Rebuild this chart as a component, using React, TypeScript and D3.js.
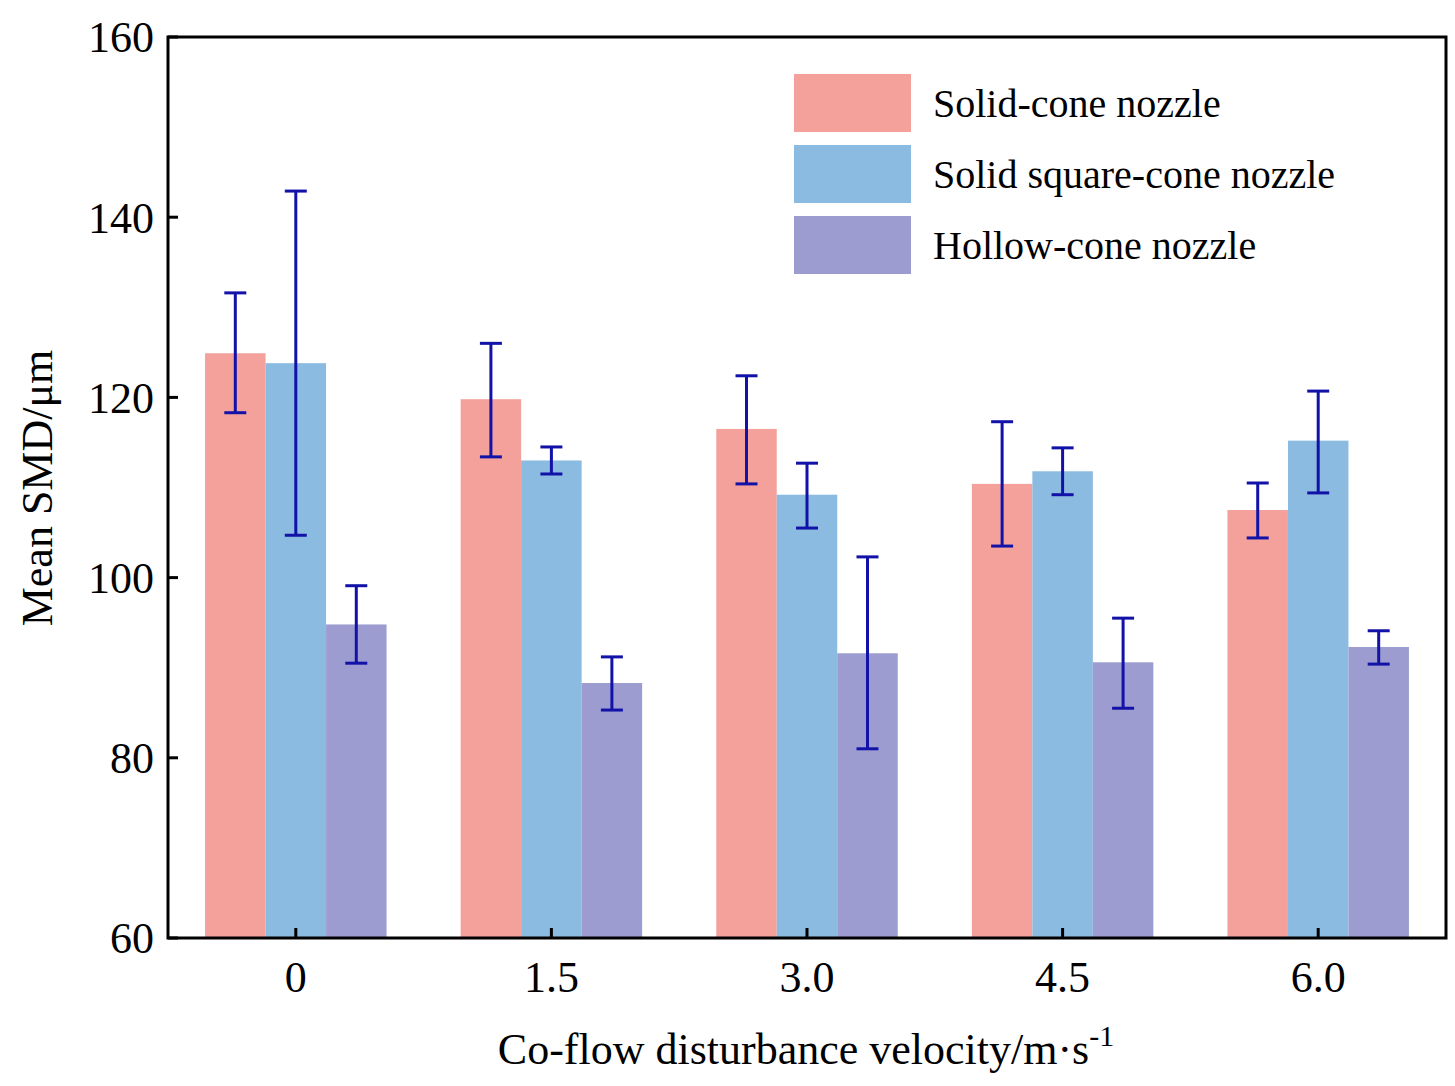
import React from "react";
import * as d3 from "d3";

const categories = ["0", "1.5", "3.0", "4.5", "6.0"];
const seriesNames = ["Solid-cone nozzle", "Solid square-cone nozzle", "Hollow-cone nozzle"];
const colors = ["#F4A19B", "#8BBBE0", "#9C9CD0"];
const solidCone = [124.9, 119.8, 116.5, 110.4, 107.5];
const solidConeLo = [118.3, 113.4, 110.4, 103.5, 104.4];
const solidConeHi = [131.6, 126.0, 122.4, 117.3, 110.5];
const squareCone = [123.8, 113.0, 109.2, 111.8, 115.2];
const squareConeLo = [104.7, 111.5, 105.5, 109.2, 109.4];
const squareConeHi = [142.9, 114.5, 112.7, 114.4, 120.7];
const hollowCone = [94.8, 88.3, 91.6, 90.6, 92.3];
const hollowConeLo = [90.5, 85.3, 81.0, 85.5, 90.4];
const hollowConeHi = [99.1, 91.2, 102.3, 95.5, 94.1];
const yTicks = [60, 80, 100, 120, 140, 160];

const series = [
  { v: solidCone, lo: solidConeLo, hi: solidConeHi },
  { v: squareCone, lo: squareConeLo, hi: squareConeHi },
  { v: hollowCone, lo: hollowConeLo, hi: hollowConeHi },
];

export default function App() {
  const L = 168, R = 1446, T = 37, B = 938;
  const x = d3.scaleBand().domain(categories).range([L, R]).paddingInner(0.29).paddingOuter(0.145);
  const xs = d3.scaleBand().domain(["0", "1", "2"]).range([0, x.bandwidth()]);
  const y = d3.scaleLinear().domain([60, 160]).range([B, T]);
  const font = "'Liberation Serif', 'DejaVu Serif', serif";
  return (
    <svg width={1455} height={1086} style={{ position: "absolute", left: 0, top: 0, background: "#fff" }} fontFamily={font}>
      {series.map((s, si) =>
        categories.map((c, ci) => {
          const bx = (x(c) as number) + (xs(String(si)) as number);
          return (
            <rect key={si + "-" + ci} x={bx} y={y(s.v[ci])} width={xs.bandwidth()} height={B - y(s.v[ci])} fill={colors[si]} />
          );
        })
      )}
      {series.map((s, si) =>
        categories.map((c, ci) => {
          const cx = (x(c) as number) + (xs(String(si)) as number) + xs.bandwidth() / 2;
          const y1 = y(s.hi[ci]), y2 = y(s.lo[ci]);
          return (
            <g key={"e" + si + "-" + ci} stroke="#1212A8" strokeWidth={3}>
              <line x1={cx} x2={cx} y1={y1} y2={y2} />
              <line x1={cx - 11} x2={cx + 11} y1={y1} y2={y1} />
              <line x1={cx - 11} x2={cx + 11} y1={y2} y2={y2} />
            </g>
          );
        })
      )}
      <rect x={L} y={T} width={R - L} height={B - T} fill="none" stroke="#000" strokeWidth={3} />
      {yTicks.map((t) => (
        <g key={t}>
          <line x1={L} x2={L + 10} y1={y(t)} y2={y(t)} stroke="#000" strokeWidth={3} />
          <text x={L - 14} y={y(t)} dy="0.35em" textAnchor="end" fontSize={44}>{t}</text>
        </g>
      ))}
      {categories.map((c) => {
        const cx = (x(c) as number) + x.bandwidth() / 2;
        return (
          <g key={c}>
            <line x1={cx} x2={cx} y1={B} y2={B - 10} stroke="#000" strokeWidth={3} />
            <text x={cx} y={992} textAnchor="middle" fontSize={44}>{c}</text>
          </g>
        );
      })}
      <text x={806} y={1064} textAnchor="middle" fontSize={44}>
        Co-flow disturbance velocity/m·s<tspan dy={-18} fontSize={30}>-1</tspan>
      </text>
      <text transform="translate(52,488) rotate(-90)" textAnchor="middle" fontSize={44}>Mean SMD/μm</text>
      {seriesNames.map((n, i) => (
        <g key={n}>
          <rect x={794} y={74 + i * 71} width={117} height={58} fill={colors[i]} />
          <text x={933} y={103 + i * 71} dy="0.35em" fontSize={40}>{n}</text>
        </g>
      ))}
    </svg>
  );
}
